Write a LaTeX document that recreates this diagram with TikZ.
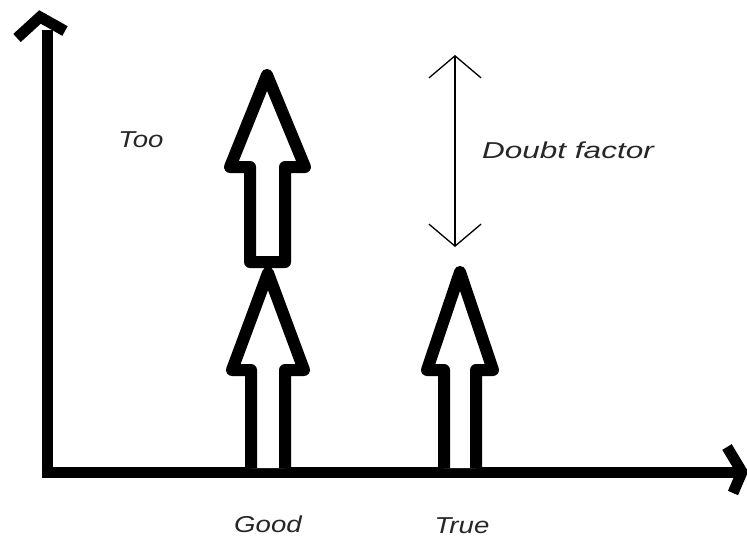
\documentclass[tikz,border=0pt]{standalone}
\usepackage{fontspec}
\setmainfont{Liberation Sans}
\usetikzlibrary{arrows.meta}
\tikzset{
  axisline/.style={line width=11pt, line cap=butt},
  chevron/.style={line width=11pt, line join=miter, line cap=butt},
  blockarrow/.style={line width=12pt, line join=round, fill=white},
  thinarrow/.style={line width=1.3pt, {Straight Barb[length=22pt,width=52pt,line width=1.3pt]}-{Straight Barb[length=22pt,width=52pt,line width=1.3pt]}},
  lbl/.style={font=\fontsize{23}{26}\selectfont\itshape, text=black!85, inner sep=0pt}
}
\newcommand{\wide}[2][1.2]{\scalebox{#1}[1]{#2}}
\begin{document}
\begin{tikzpicture}[x=1pt,y=-1pt]
\useasboundingbox[fill=white] (0,0) rectangle (747,538);
% axes
\coordinate (O) at (47,472);
\coordinate (Ytop) at (47,30);
\coordinate (Xend) at (742,472);
\draw[axisline] (47,477.5) -- (Ytop);
\draw[axisline] (41.5,472) -- (Xend);
\draw[chevron] (17,38) -- (40,17) -- (65,31);
\draw[chevron] (727,447) -- (742,472) -- (733,493);
% Good: lower block arrow
\draw[blockarrow] (251,468) -- (251,370) -- (232,370) -- (268,273) -- (304,370) -- (285,370) -- (285,468);
% Good: upper block arrow ("Too")
\draw[blockarrow] (250,262) -- (250,167) -- (230,167) -- (267,75) -- (305,167) -- (285,167) -- (285,262) -- cycle;
% True block arrow
\draw[blockarrow] (444,468) -- (444,370) -- (427,370) -- (460,272) -- (493,370) -- (476,370) -- (476,468);
% doubt factor double arrow
\coordinate (Dtop) at (455,55);
\coordinate (Dbot) at (455,247);
\draw[thinarrow] (Dtop) -- (Dbot);
% labels
\node[lbl] (too) at (141,140) {\wide{Too}};
\node[lbl] (doubt) at (568,150) {\wide[1.37]{Doubt factor}};
\node[lbl] (good) at (268,524) {\wide{Good}};
\node[lbl] (true) at (462,526) {\wide{True}};
\end{tikzpicture}
\end{document}
